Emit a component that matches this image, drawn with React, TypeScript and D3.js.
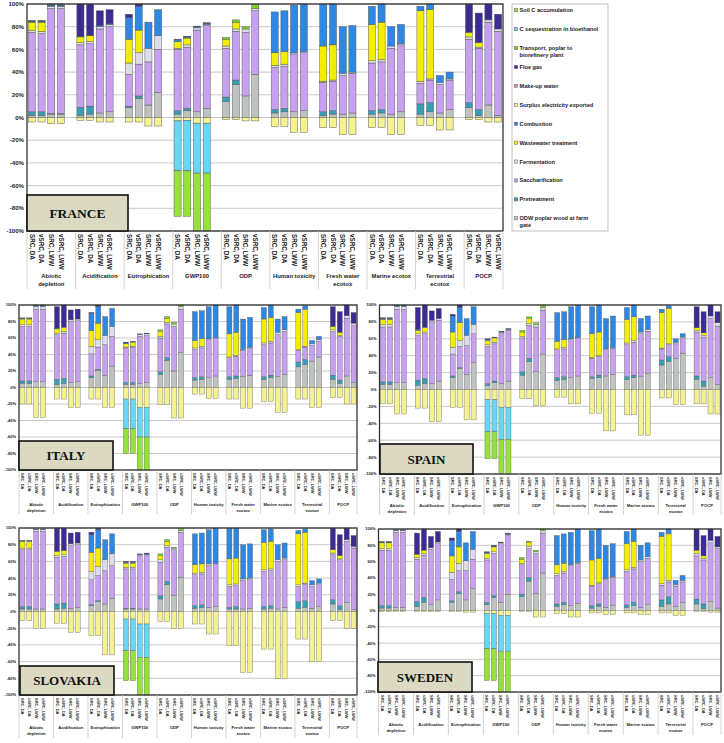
import React from 'react';
import * as d3 from 'd3';

// ---------- data ----------
const CATEGORIES: string[][] = [
  ['Abiotic', 'depletion'], ['Acidification'], ['Eutrophication'], ['GWP100'], ['ODP'],
  ['Human toxicity'], ['Fresh water', 'ecotox'], ['Marine ecotox'], ['Terrestrial', 'ecotox'], ['POCP'],
];
const SCENARIOS = ['SRC, DA', 'vSRC, DA', 'SRC, LWW', 'vSRC, LWW'];
const SERIES_KEYS = ['odw', 'pre', 'sac', 'fer', 'ww', 'comb', 'surp', 'mu', 'flue', 'trans', 'cseq', 'soil'];
const SERIES_NAMES = [
  'ODW poplar wood at farm gate', 'Pretreatment', 'Saccharification', 'Fermentation',
  'Wastewater treatment', 'Combustion', 'Surplus electricity exported', 'Make-up water',
  'Flue gas', 'Transport, poplar to biorefinery plant', 'C sequestration in bioethanol', 'Soil C accumulation',
];
const TICKS = [-100, -80, -60, -40, -20, 0, 20, 40, 60, 80, 100];

// row: [odw, pre, sac, fer, ww, comb, surp, mu, flue, trans, cseq, soil]
const FRANCE = [
  [2, 3, 70, 2, 7, 0.5, -4, 0, 0.5, 0.5], [2, 3, 69, 2, 8, 0.5, -4, 0, 0.5, 0.5], [3, 0.5, 92.5, 2, 0, 1, -5.5, 0, 0.5, 0.5], [3, 0.5, 92.5, 2, 0, 1, -5.5, 0, 0.5, 0.5],
  [2, 7, 55, 2, 5, 0.5, -2.5, 0, 28.5], [3, 7, 55, 2, 5, 0.5, -2.5, 0, 27.5], [4, 0, 74, 2, 0, 1, -4, 0, 13], [5, 0, 75, 2, 0, 0.5, -4, 0, 12.5],
  [9, 1, 28, 10, 21, 19, -4, 0, 3], [17, 2, 28, 10, 20, 21, -4, 0, 2], [11, 0, 38, 12, 0, 23, -7.5], [22, 0, 38, 12, 0, 23, -7.5],
  [3, 3, 54, 1, 6, 1.5, -3, 0, 0.5, 0, -44, -40], [6, 2, 54, 2, 6, 1, -2.5, 0, 0.5, 0, -44.5, -40], [5, 0, 72, 2, 0, 1, -5, 0, 0.5, 0, -44, -51], [8, 0, 73, 1, 0, 1, -5, 0, 0.5, 0, -44, -51],
  [14, 4, 43, 2, 6, 0, -2, 0, 0, 1.5], [29, 4, 43, 2, 6, 0, -2, 0, 0, 2], [19, 0, 56, 3, 0, 0, -3, 0, 0, 2], [38, 0, 56, 2, 0, 0, -3, 0, 0, 4],
  [4, 3, 37, 2, 11, 36, -8], [5, 3, 37, 2, 11, 36, -8], [5, 0, 51, 1, 0, 42, -13], [6, 0, 51, 1, 0, 42, -13],
  [2, 3, 26, 1, 31, 37, -9], [3, 3, 26, 1, 31, 36, -9], [3, 0, 34, 2, 0, 41, -15], [4, 0, 35, 1, 0, 41, -15],
  [3, 3, 42, 2, 32, 16, -9], [4, 3, 42, 2, 33, 16, -9], [3, 0, 58, 2, 0, 17, -15], [5, 0, 59, 1, 0, 17, -15],
  [3, 9, 18, 2, 62, 4, -7], [5, 8, 20, 1, 61, 5, -7], [4, 0, 25, 2, 0, 6, -11], [7, 0, 26, 1, 0, 6, -11],
  [9, 4, 56, 2, 4, 0, -2, 0, 25], [2, 5, 54, 1, 4, 0, -2, 0, 26], [11, 0, 73, 2, 0, 0, -4, 0, 14], [2, 0, 74, 2, 0, 0, -4, 0, 13],
];
const ITALY = [
  [5, 3, 66, 2, 7, 0.5, -20, 0, 0.5, 0.5], [5, 3, 66, 2, 7, 0.5, -20, 0, 0.5, 0.5], [7, 0, 88, 3, 0, 1, -36, 0, 0.5, 0.5], [7, 0, 88, 3, 0, 1, -36, 0, 0.5, 0.5],
  [4, 6, 54, 2, 5, 1, -14, 0, 26], [5, 6, 55, 2, 5, 0, -14, 0, 27], [6, 0, 74, 2, 0, 0, -24, 0, 12], [7, 0, 74, 2, 0, 0, -24, 0, 12],
  [12, 2, 27, 9, 19, 21, -14, 0, 1], [21, 1, 27, 9, 20, 20, -14, 0, 2], [15, 0, 37, 11, 0, 23, -24], [26, 0, 36, 12, 0, 22, -24],
  [4, 2, 42, 1, 4, 1, -14, 0, 1, 0, -36, -30], [4, 2, 43, 1, 5, 0.5, -14, 0, 0.5, 0, -36, -30], [5, 0, 57, 2, 0, 0.5, -24, 0, 0.5, 0, -36, -40], [6, 0, 57, 2, 0, 0.5, -24, 0, 0.5, 0, -36, -40],
  [16, 3, 41, 2, 6, 0, -21, 0, 0, 2], [33, 3, 41, 2, 5, 0, -21, 0, 0, 2], [20, 0, 54, 3, 0, 0, -37, 0, 0, 2], [42, 0, 53, 3, 0, 0, -37, 0, 0, 2],
  [9, 3, 34, 2, 9, 35, -8], [10, 3, 35, 2, 9, 34, -8], [12, 0, 46, 1, 0, 39, -13], [14, 0, 46, 1, 0, 39, -13],
  [10, 3, 23, 1, 28, 33, -14], [11, 3, 24, 1, 28, 33, -14], [13, 0, 32, 1, 0, 37, -25], [15, 0, 33, 1, 0, 36, -25],
  [10, 3, 39, 2, 29, 14, -17], [12, 3, 39, 2, 29, 15, -17], [13, 0, 51, 3, 0, 16, -30], [16, 0, 52, 2, 0, 16, -30],
  [25, 6, 14, 1, 45, 4, -14], [28, 6, 15, 1, 45, 4, -14], [32, 0, 19, 2, 0, 4, -24], [37, 0, 19, 2, 0, 4, -24],
  [10, 5, 53, 2, 4, 0, -12, 0, 24], [5, 4, 53, 1, 4, 0, -12, 0, 25], [14, 0, 70, 3, 0, 0, -20, 0, 13], [6, 0, 69, 3, 0, 0, -20, 0, 13],
];
const SPAIN = [
  [6, 3, 65, 3, 6, 0.5, -17, 0, 1, 0.5], [6, 3, 65, 3, 6, 0.5, -17, 0, 1, 0.5], [8, 0, 87, 3, 0, 1, -29, 0, 0.5, 0.5], [8, 0, 87, 3, 0, 1, -29, 0, 0.5, 0.5],
  [5, 6, 53, 2, 4, 1, -22, 0, 26], [7, 6, 53, 2, 5, 1, -22, 0, 26], [7, 0, 73, 2, 0, 0, -38, 0, 11], [10, 0, 72, 2, 0, 0, -38, 0, 12],
  [14, 2, 26, 8, 18, 19, -21, 0, 2], [25, 1, 25, 7, 21, 18, -21, 0, 3], [18, 0, 34, 12, 0, 20, -36], [32, 0, 34, 11, 0, 21, -36],
  [5, 2, 44, 2, 5, 1, -12, 0, 1, 0, -38, -32], [8, 2, 44, 2, 5, 0.5, -12, 0, 0.5, 0, -38, -32], [7, 0, 60, 1, 0, 0.5, -21, 0, 0.5, 0, -38, -41], [10, 0, 60, 1, 0, 0.5, -21, 0, 0.5, 0, -38, -41],
  [17, 4, 40, 2, 5, 0, -11, 0, 0, 2], [33, 4, 39, 2, 6, 0, -11, 0, 0, 2], [21, 0, 53, 3, 0, 0, -19, 0, 0, 2], [42, 0, 52, 3, 0, 0, -19, 0, 0, 3],
  [11, 3, 33, 1, 9, 34, -9], [12, 3, 33, 2, 9, 33, -9], [14, 0, 45, 1, 0, 38, -17], [16, 0, 45, 1, 0, 38, -17],
  [13, 2, 22, 1, 28, 32, -28], [14, 3, 22, 1, 28, 32, -28], [16, 0, 31, 1, 0, 36, -49], [18, 0, 31, 1, 0, 37, -49],
  [12, 3, 38, 2, 28, 14, -30], [14, 3, 39, 2, 28, 14, -30], [15, 0, 51, 2, 0, 16, -54], [19, 0, 50, 2, 0, 16, -54],
  [29, 6, 13, 1, 42, 4, -10], [33, 6, 14, 1, 42, 3, -10], [37, 0, 17, 2, 0, 4, -18], [43, 0, 17, 2, 0, 4, -18],
  [12, 4, 52, 2, 3, 0, -17, 0, 25], [4, 6, 52, 2, 3, 0, -17, 0, 25], [14, 0, 70, 3, 0, 0, -29, 0, 13], [6, 0, 69, 4, 0, 0, -29, 0, 13],
];
const SLOVAKIA = [
  [3, 3, 68, 2, 8, 0.5, -11, 0, 0.5], [3, 3, 68, 2, 8, 0.5, -11, 0, 0.5], [3, 0, 93, 2, 0, 0.5, -20, 0, 0.5], [3, 0, 93, 2, 0, 0.5, -20, 0, 0.5],
  [3, 6, 56, 2, 5, 0, -14, 0, 28], [4, 6, 56, 2, 5, 0, -14, 0, 27], [4, 0, 75, 2, 0, 0, -25, 0, 13], [5, 0, 75, 2, 0, 0, -25, 0, 13],
  [7, 1, 30, 10, 23, 21, -29, 0, 3], [12, 1, 30, 11, 22, 22, -29, 0, 2], [9, 0, 40, 13, 0, 24, -52], [16, 0, 39, 14, 0, 24, -52],
  [3, 1, 47, 2, 5, 1, -9, 0, 1, 0, -38, -36], [3, 1, 47, 2, 5, 1, -9, 0, 1, 0, -38, -36], [3, 0, 64, 1, 0, 0.5, -15, 0, 0.5, 0, -40, -45], [3, 0, 64, 1, 0, 1, -15, 0, 1, 0, -40, -45],
  [15, 4, 40, 3, 5, 0, -12, 0, 0, 2], [32, 4, 41, 2, 5, 0, -12, 0, 0, 2], [19, 0, 55, 2, 0, 0, -20, 0, 0, 1], [41, 0, 54, 2, 0, 0, -20, 0, 0, 3],
  [4, 3, 37, 2, 10, 37, -15], [5, 3, 37, 2, 10, 37, -15], [5, 0, 50, 2, 0, 41, -27], [6, 0, 51, 1, 0, 42, -27],
  [3, 2, 25, 2, 31, 37, -41], [3, 3, 25, 2, 31, 36, -41], [3, 0, 34, 2, 0, 41, -73], [4, 0, 34, 2, 0, 41, -73],
  [3, 3, 42, 2, 33, 15, -45], [4, 3, 42, 2, 33, 15, -45], [3, 0, 57, 2, 0, 18, -80], [5, 0, 57, 2, 0, 18, -80],
  [4, 8, 18, 2, 61, 4, -33], [5, 8, 20, 1, 61, 4, -33], [4, 0, 26, 2, 0, 5, -60], [6, 0, 26, 2, 0, 5, -60],
  [9, 5, 54, 2, 4, 0, -11, 0, 26], [2, 5, 55, 1, 4, 0, -11, 0, 25], [11, 0, 73, 2, 0, 0, -20, 0, 14], [2, 0, 74, 2, 0, 0, -20, 0, 13],
];
const SWEDEN = [
  [3, 3, 68, 2, 7, 0.5, -1.5, 0, 1, 0.5], [3, 3, 68, 2, 7, 0.5, -1.5, 0, 1, 0.5], [4, 0, 92, 2, 0, 0.5, -1.5, 0, 0.5], [4, 0, 92, 2, 0, 0.5, -1.5, 0, 0.5],
  [5, 6, 52, 2, 4, 0, -1, 0, 26], [10, 6, 52, 2, 4, 0, -1, 0, 26], [7, 0, 68, 2, 0, 0, -1.5, 0, 14], [13, 0, 69, 2, 0, 0, -1.5, 0, 13],
  [10, 2, 26, 9, 20, 19, -1, 0, 3], [21, 2, 26, 9, 20, 19, -1, 0, 3], [13, 0, 36, 12, 0, 22, -2], [27, 0, 36, 12, 0, 22, -2],
  [7, 3, 52, 2, 6, 1, -4, 0, 1, 0, -43, -39], [16, 2, 52, 2, 6, 1, -4, 0, 1, 0, -43, -39], [10, 0, 72, 1, 0, 0.5, -6, 0, 0.5, 0, -44, -50], [20, 0, 72, 1, 0, 1, -6, 0, 1, 0, -44, -50],
  [17, 3, 36, 2, 5, 0, -1, 0, 0, 2], [36, 4, 36, 3, 5, 0, -1, 0, 0, 1], [21, 0, 49, 2, 0, 0, -8, 0, 0, 2], [46, 0, 49, 3, 0, 0, -8, 0, 0, 2],
  [5, 3, 35, 2, 11, 36, -4], [7, 3, 36, 2, 10, 36, -4], [6, 0, 49, 1, 0, 40, -8], [9, 0, 49, 1, 0, 41, -8],
  [3, 3, 24, 1, 31, 36, -3], [5, 3, 25, 1, 30, 36, -3], [4, 0, 34, 1, 0, 41, -5], [6, 0, 35, 1, 0, 40, -5],
  [4, 3, 41, 2, 32, 15, -3], [6, 4, 41, 2, 32, 15, -3], [4, 0, 56, 2, 0, 18, -5], [7, 0, 57, 2, 0, 17, -5],
  [5, 8, 18, 2, 58, 5, -3], [8, 9, 18, 2, 57, 6, -3], [5, 0, 25, 2, 0, 5, -6], [10, 0, 25, 2, 0, 6, -6],
  [8, 6, 53, 3, 4, 0, -1, 0, 26], [2, 6, 54, 2, 3, 0, -1, 0, 25], [11, 0, 72, 3, 0, 0, -2, 0, 14], [3, 0, 73, 2, 0, 0, -2, 0, 13],
];

// ---------- styles ----------
const COLORS: Record<string, string> = {
  odw: '#bfc3bf', pre: '#35a0b5', sac: '#c7a1f0', fer: '#dcdcea', ww: '#f3ee00', comb: '#2d87e3',
  surp: '#f4f191', mu: '#e395bb', flue: '#3b2b92', trans: '#78d22a', cseq: '#66d7f6', soil: '#96e13a',
};
const SANS = '"Liberation Sans", Arial, sans-serif';
const SERIF = '"Liberation Serif", "Times New Roman", serif';

type Cfg = {
  x0: number; x1: number; top: number; bottom: number;
  tickFont: number; labFont: number; catFont: number; catY: number; catGap: number; divEnd: number;
  box: [number, number, number, number]; boxFont: number; stroke: number;
};

const SLOTS = 49;

function Panel({ cfg, data, name }: { cfg: Cfg; data: number[][]; name: string }) {
  const slotOf = (i: number) => Math.floor(i / 4) * 5 + (i % 4);
  const x = d3.scaleBand<number>().domain(d3.range(SLOTS)).range([cfg.x0, cfg.x1]).paddingInner(0.27).paddingOuter(0.135);
  const y = d3.scaleLinear().domain([-100, 100]).range([cfg.bottom, cfg.top]);
  const rows = data.map((r, i) => {
    const o: any = { slot: slotOf(i) };
    SERIES_KEYS.forEach((k, j) => (o[k] = r[j] ?? 0));
    return o;
  });
  const stacked = d3.stack<any>().keys(SERIES_KEYS).offset(d3.stackOffsetDiverging)(rows);
  const step = x.step();
  const bw = x.bandwidth();
  const catStart = (c: number) => cfg.x0 + c * 5 * step;
  const catEnd = (c: number) => (c === 9 ? cfg.x1 : catStart(c + 1));
  const [bx, by, bwid, bh] = cfg.box;
  return (
    <g>
      <rect x={cfg.x0} y={cfg.top} width={cfg.x1 - cfg.x0} height={cfg.bottom - cfg.top} fill="#fff" />
      {TICKS.map((t) => (
        <line key={t} x1={cfg.x0} x2={cfg.x1} y1={y(t)} y2={y(t)} stroke="#bdbdbd" strokeWidth={0.8} />
      ))}
      {TICKS.map((t) => (
        <text key={'t' + t} x={cfg.x0 - 3} y={y(t)} dy="0.35em" textAnchor="end" fontFamily={SANS} fontWeight="bold"
          fontSize={cfg.tickFont} fill="#222">{t + '%'}</text>
      ))}
      {stacked.map((s) => (
        <g key={s.key} fill={COLORS[s.key]}>
          {s.map((d, i) => {
            const h = Math.abs(y(d[0]) - y(d[1]));
            if (h < 0.01) return null;
            return (
              <rect key={i} x={x(d.data.slot)!} y={Math.min(y(d[0]), y(d[1]))} width={bw} height={h}
                stroke="#555" strokeWidth={cfg.stroke} />
            );
          })}
        </g>
      ))}
      <rect x={cfg.x0} y={cfg.top} width={cfg.x1 - cfg.x0} height={cfg.bottom - cfg.top} fill="none" stroke="#333" strokeWidth={1.3} />
      {/* category dividers */}
      {d3.range(11).map((c) => {
        const xx = c === 10 ? cfg.x1 : catStart(c);
        return <line key={'dv' + c} x1={xx} x2={xx} y1={cfg.bottom} y2={cfg.divEnd} stroke="#c8c8c8" strokeWidth={0.8} />;
      })}
      {data.map((_, i) => {
        const cx = x(slotOf(i))! + bw / 2;
        return (
          <text key={'l' + i} transform={`translate(${cx},${cfg.bottom + 3}) rotate(90)`} dy="0.35em"
            fontFamily={SANS} fontWeight="bold" fontSize={cfg.labFont} fill="#222">{SCENARIOS[i % 4]}</text>
        );
      })}
      {CATEGORIES.map((lines, c) => (
        <text key={'c' + c} x={(catStart(c) + catEnd(c)) / 2} y={cfg.catY} textAnchor="middle" fontFamily={SANS}
          fontWeight="bold" fontSize={cfg.catFont} fill="#222">
          {lines.map((ln, k) => (
            <tspan key={k} x={(catStart(c) + catEnd(c)) / 2} dy={k === 0 ? 0 : cfg.catGap}>{ln}</tspan>
          ))}
        </text>
      ))}
      <rect x={bx} y={by} width={bwid} height={bh} fill="#dcd9c3" stroke="#111" strokeWidth={1.6} />
      <text x={bx + bwid / 2} y={by + bh / 2} dy="0.35em" textAnchor="middle" fontFamily={SERIF} fontWeight="bold"
        fontSize={cfg.boxFont} fill="#111">{name}</text>
    </g>
  );
}

function Legend() {
  const order = [...SERIES_KEYS].reverse();
  const names = [...SERIES_NAMES].reverse();
  const ly = d3.scaleLinear().domain([0, 11]).range([10.3, 218.3]);
  return (
    <g>
      <rect x={512} y={4} width={96} height={227} fill="#fff" stroke="#b0b0b0" strokeWidth={0.8} />
      {order.map((k, i) => {
        const nm = names[i];
        const lines = nm === 'Transport, poplar to biorefinery plant' ? ['Transport, poplar to', 'biorefinery plant']
          : nm === 'ODW poplar wood at farm gate' ? ['ODW poplar wood at farm', 'gate'] : [nm];
        return (
          <g key={k}>
            <rect x={514.5} y={ly(i) - 1.6} width={3.2} height={3.2} fill={COLORS[k]} stroke="#444" strokeWidth={0.4} />
            <text x={519.5} y={ly(i)} dy="0.35em" fontFamily={SANS} fontWeight="bold" fontSize={5.6} fill="#222">
              {lines.map((ln, j) => (
                <tspan key={j} x={519.5} dy={j === 0 ? '0.35em' : 7}>{ln}</tspan>
              ))}
            </text>
          </g>
        );
      })}
    </g>
  );
}

const FR_CFG: Cfg = { x0: 27, x1: 503, top: 4, bottom: 231, tickFont: 6.1, labFont: 6.3, catFont: 5.9, catY: 278, catGap: 7.5, divEnd: 289, box: [27, 195, 101, 36], boxFont: 13.5, stroke: 0.45 };
const IT_CFG: Cfg = { x0: 19, x1: 357, top: 305, bottom: 470, tickFont: 4, labFont: 4, catFont: 4.2, catY: 506, catGap: 5.5, divEnd: 514, box: [19, 441, 94, 29], boxFont: 13, stroke: 0.35 };
const ES_CFG: Cfg = { x0: 379.5, x1: 721, top: 305, bottom: 474, tickFont: 4, labFont: 4, catFont: 4.2, catY: 507, catGap: 5.5, divEnd: 515, box: [380, 444, 93, 30], boxFont: 13, stroke: 0.35 };
const SK_CFG: Cfg = { x0: 19, x1: 357, top: 528, bottom: 695, tickFont: 4, labFont: 4, catFont: 4.2, catY: 729, catGap: 5.5, divEnd: 738, box: [20, 666, 94, 29], boxFont: 13, stroke: 0.35 };
const SE_CFG: Cfg = { x0: 378.5, x1: 721, top: 529, bottom: 692, tickFont: 4, labFont: 4, catFont: 4.2, catY: 726, catGap: 5.5, divEnd: 735, box: [378, 662, 94, 30], boxFont: 13, stroke: 0.35 };

export default function App() {
  return (
    <svg width={724} height={743} style={{ position: 'absolute', left: 0, top: 0, background: '#fff' }}>
      <rect width={724} height={743} fill="#fff" />
      <Panel cfg={FR_CFG} data={FRANCE} name="FRANCE" />
      <Legend />
      <Panel cfg={IT_CFG} data={ITALY} name="ITALY" />
      <Panel cfg={ES_CFG} data={SPAIN} name="SPAIN" />
      <Panel cfg={SK_CFG} data={SLOVAKIA} name="SLOVAKIA" />
      <Panel cfg={SE_CFG} data={SWEDEN} name="SWEDEN" />
    </svg>
  );
}
